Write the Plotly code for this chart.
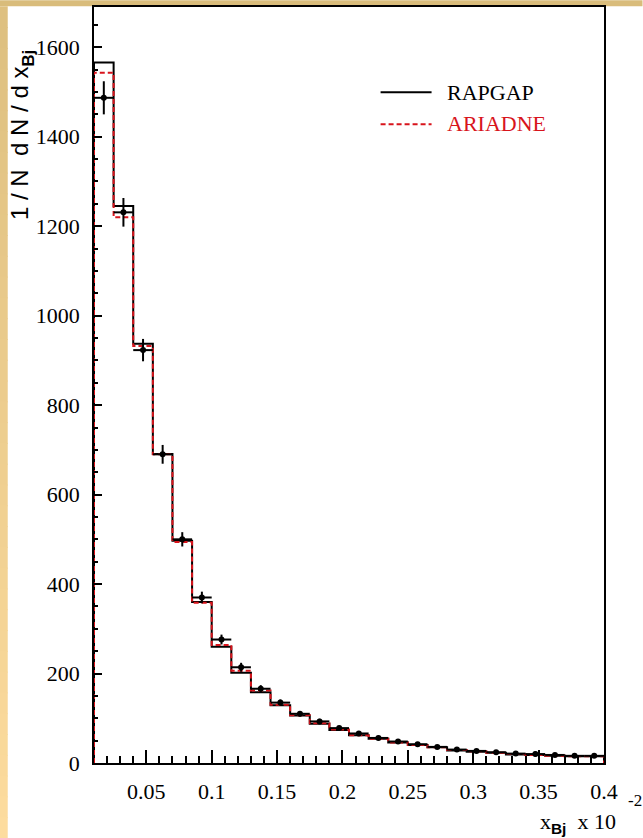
import numpy as np
import plotly.graph_objects as go

# ---- data ----
bin_edges = np.round(np.linspace(0.01, 0.40, 27), 4)
rapgap = [1566, 1245, 937, 691, 497, 360, 260, 202, 158, 129, 106, 88, 74,
          62, 54, 46, 40, 35, 28, 25, 23, 19, 18, 16, 15, 15]
ariadne = [1543, 1220, 932, 690, 494, 358, 264, 206, 162, 130, 107, 89, 75,
           62, 54, 46, 40, 35, 29, 26, 23, 20, 18, 16, 15, 15]
data_val = [1487, 1231, 923, 690, 500, 370, 276, 214, 166, 135, 110, 93, 78,
            66, 56, 48, 42, 36, 30, 27, 24, 21, 20, 18, 16, 16]
data_err = [37, 32, 25, 21, 16, 13, 11, 10, 8, 7, 6, 6, 5,
            5, 5, 4, 4, 4, 4, 4, 3, 3, 6, 3, 3, 3]
y_ticks = [0, 200, 400, 600, 800, 1000, 1200, 1400, 1600]
x_ticks = [0.05, 0.1, 0.15, 0.2, 0.25, 0.3, 0.35, 0.4]
x_tick_text = ["0.05", "0.1", "0.15", "0.2", "0.25", "0.3", "0.35", "0.4"]

centers = (bin_edges[:-1] + bin_edges[1:]) / 2
halfw = (bin_edges[1:] - bin_edges[:-1]) / 2


def step(vals):
    xs, ys = [bin_edges[0]], [0]
    for i, v in enumerate(vals):
        xs += [bin_edges[i], bin_edges[i + 1]]
        ys += [v, v]
    xs.append(bin_edges[-1])
    ys.append(0)
    return xs, ys


RED = "#d8141c"
SERIF = "Liberation Serif, Times New Roman, serif"
SANS = "Liberation Sans, Arial, sans-serif"

fig = go.Figure()
xr, yr = step(rapgap)
fig.add_trace(go.Scatter(x=xr, y=yr, mode="lines", name="RAPGAP",
                         line=dict(color="black", width=2), showlegend=False))
xa, ya = step(ariadne)
fig.add_trace(go.Scatter(x=xa, y=ya, mode="lines", name="ARIADNE",
                         line=dict(color=RED, width=2, dash="5px,3px"), showlegend=False))
fig.add_trace(go.Scatter(
    x=centers, y=data_val, mode="markers", name="Data",
    marker=dict(color="black", size=6),
    error_y=dict(type="data", array=data_err, color="black", thickness=2, width=0),
    error_x=dict(type="data", array=halfw, color="black", thickness=2, width=0),
    showlegend=False))

# figure geometry (pixels)
W, H = 643, 838
L, R, T, B = 94.3, 604.5, 6.7, 763.0
pw, ph = R - L, B - T


def px(x):
    return (x - L) / pw


def py(y):
    return (B - y) / ph


shapes = []
# top tan band
shapes.append(dict(type="rect", xref="paper", yref="paper", x0=px(0), x1=px(W),
                   y0=py(6), y1=py(0), fillcolor="rgb(217,188,123)",
                   line=dict(width=0), layer="below"))
# left gradient strip
n = 40
c0 = np.array([222, 192, 128])
c1 = np.array([253, 220, 158])
for i in range(n):
    t = i / (n - 1)
    c = (c0 + (c1 - c0) * t).astype(int)
    y0p = 6 + (H - 6) * i / n
    y1p = 6 + (H - 6) * (i + 1) / n + 1
    shapes.append(dict(type="rect", xref="paper", yref="paper", x0=px(0), x1=px(8),
                       y0=py(y1p), y1=py(y0p),
                       fillcolor=f"rgb({c[0]},{c[1]},{c[2]})",
                       line=dict(width=0), layer="below"))
# legend samples
shapes.append(dict(type="line", xref="paper", yref="paper", x0=px(381), x1=px(432),
                   y0=py(92), y1=py(92), line=dict(color="black", width=2)))
shapes.append(dict(type="line", xref="paper", yref="paper", x0=px(381), x1=px(432),
                   y0=py(124), y1=py(124), line=dict(color=RED, width=2, dash="5px,3px")))

annotations = [
    dict(text="RAPGAP", xref="paper", yref="paper", x=px(445), y=py(92),
         xanchor="left", yanchor="middle", showarrow=False,
         font=dict(family=SERIF, size=22, color="black")),
    dict(text="ARIADNE", xref="paper", yref="paper", x=px(445), y=py(123),
         xanchor="left", yanchor="middle", showarrow=False,
         font=dict(family=SERIF, size=22, color=RED)),
    dict(text="1 / N  d N / d x<sub><b>Bj</b></sub>", xref="paper", yref="paper",
         x=px(22), y=py(135), textangle=-90, xanchor="center", yanchor="middle",
         showarrow=False, font=dict(family=SANS, size=24, color="black")),
    dict(text="x<sub><span style='font-family:Liberation Sans'><b>Bj</b></span></sub>  x 10",
         xref="paper", yref="paper", x=px(578), y=py(823),
         xanchor="center", yanchor="middle", showarrow=False,
         font=dict(family=SERIF, size=22, color="black")),
    dict(text="-2", xref="paper", yref="paper", x=px(636), y=py(801),
         xanchor="center", yanchor="middle", showarrow=False,
         font=dict(family=SERIF, size=17, color="black")),
]

fig.update_layout(
    width=W, height=H,
    margin=dict(l=L, r=W - R, t=T, b=H - B, pad=0),
    paper_bgcolor="white", plot_bgcolor="white",
    font=dict(family=SERIF, size=22, color="black"),
    shapes=shapes, annotations=annotations,
    showlegend=False,
)
fig.update_xaxes(
    range=[0.01, 0.40], tickvals=x_ticks, ticktext=x_tick_text,
    ticks="inside", ticklen=13,
    tickwidth=1.5, tickcolor="black", showgrid=False, zeroline=False,
    showline=True, linecolor="black", linewidth=1.5, mirror=True,
    minor=dict(dtick=0.01, tick0=0, ticks="inside", ticklen=7, tickwidth=1.5,
               tickcolor="black", showgrid=False),
    tickfont=dict(family=SERIF, size=22, color="black"),
    ticklabelstandoff=8,
)
fig.update_yaxes(
    range=[0, 1690], tickvals=y_ticks, ticks="inside", ticklen=8,
    tickwidth=1.5, tickcolor="black", showgrid=False, zeroline=False,
    showline=True, linecolor="black", linewidth=1.5, mirror=True,
    minor=dict(dtick=50, tick0=0, ticks="inside", ticklen=4, tickwidth=1.5,
               tickcolor="black", showgrid=False),
    tickfont=dict(family=SERIF, size=22, color="black"),
    ticklabelstandoff=8,
)

fig.write_html("out.html")
